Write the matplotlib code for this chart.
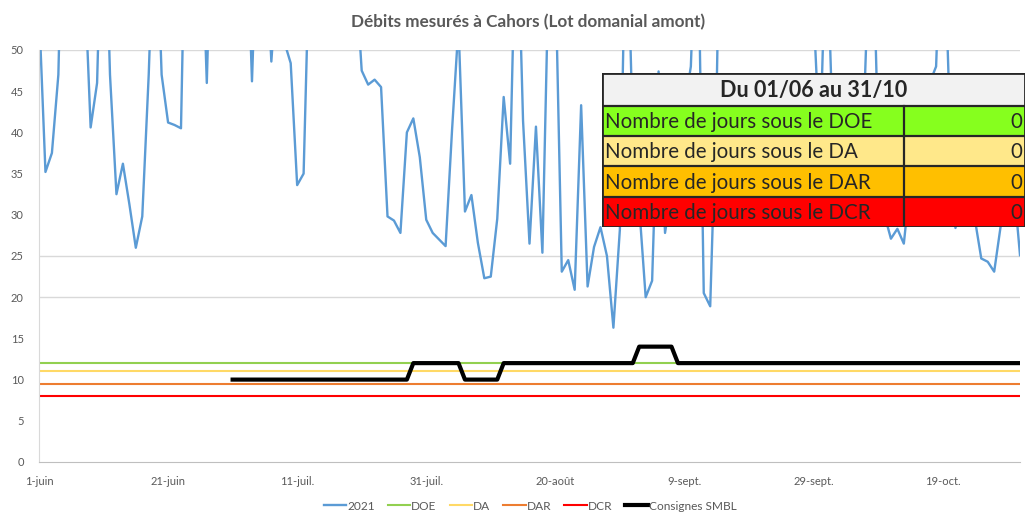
import pandas as pd
import matplotlib
matplotlib.use('Agg')
import matplotlib.pyplot as plt
from matplotlib.patches import Rectangle

plt.rcParams['font.family'] = ['Lato', 'DejaVu Sans']

# daily flows, 1 june -> 31 oct 2021 (values above 50 are off the chart)
dates = pd.date_range('2021-06-01', '2021-10-31', freq='D')
flow_2021 = [
    55, 35.2, 37.5, 47, 80, 90, 85, 60, 40.6, 46,
    75, 47, 32.5, 36.2, 31.3, 26, 29.8, 47, 70, 47,
    41.2, 40.9, 40.5, 80, 85, 70, 46, 75, 85, 90,
    85, 80, 70, 46.2, 70, 65, 48.6, 60, 51, 48.4,
    33.6, 35, 65, 80, 95, 110, 100, 90, 75, 60,
    47.5, 45.8, 46.4, 45.5, 29.8, 29.3, 27.8, 40, 41.7, 37,
    29.4, 27.8, 27, 26.2, 40.3, 53, 30.4, 32.4, 26.6, 22.3,
    22.5, 29.5, 44.3, 36.2, 70, 41.4, 26.5, 40.7, 25.4, 61,
    60, 23.1, 24.5, 20.9, 43.3, 21.3, 26.1, 28.5, 25, 16.3,
    28.2, 70, 40, 31, 20, 22, 47.4, 27.8, 33, 38,
    43, 48, 70, 20.5, 18.9, 45, 90, 110, 130, 120,
    100, 90, 85, 95, 120, 140, 110, 90, 75, 62,
    55, 38, 65, 40, 36, 34, 38, 44, 47, 70,
    40, 30, 27.1, 28.3, 26.5, 34, 38, 42, 46, 48,
    70, 45, 28.4, 32, 35, 29.5, 24.7, 24.3, 23.1, 28.6,
    38, 34, 25.1,
]

# SMBL targets from 1 july
consigne_dates = pd.date_range('2021-07-01', '2021-10-31', freq='D')
consignes = [10] * 28 + [12] * 8 + [10] * 6 + [12] * 21 + [14] * 6 + [12] * 54

DOE = 12
DA = 11
DAR = 9.5
DCR = 8

tick_dates = pd.date_range('2021-06-01', periods=8, freq='20D')
tick_labels = ['1-juin', '21-juin', '11-juil.', '31-juil.', '20-août',
               '9-sept.', '29-sept.', '19-oct.']
y_ticks = [0, 5, 10, 15, 20, 25, 30, 35, 40, 45, 50]
grid_levels = [20, 25, 50]

tbl_title = 'Du 01/06 au 31/10'
tbl_labels = ['Nombre de jours sous le DOE', 'Nombre de jours sous le DA',
              'Nombre de jours sous le DAR', 'Nombre de jours sous le DCR']
tbl_counts = [0, 0, 0, 0]
tbl_colors = ['#86ff1e', '#ffe88a', '#ffbf00', '#ff0000']

W, H = 1035, 524
grey = '#595959'

fig = plt.figure(figsize=(W / 100, H / 100), dpi=100)
ax = fig.add_axes([39 / W, 1 - 462 / H, 981 / W, 412 / H])

for g in grid_levels:
    ax.axhline(g, color='#d9d9d9', lw=1, zorder=0)

ax.plot(dates, flow_2021, color='#5b9bd5', lw=1.7, label='2021',
        solid_joinstyle='round')
ax.plot([dates[0], dates[-1]], [DOE, DOE], color='#92d050', lw=1.5, label='DOE')
ax.plot([dates[0], dates[-1]], [DA, DA], color='#ffd966', lw=1.5, label='DA')
ax.plot([dates[0], dates[-1]], [DAR, DAR], color='#ed7d31', lw=1.5, label='DAR')
ax.plot([dates[0], dates[-1]], [DCR, DCR], color='#ff0000', lw=1.5, label='DCR')
ax.plot(consigne_dates, consignes, color='black', lw=3.0, label='Consignes SMBL',
        solid_joinstyle='round')

ax.set_xlim(dates[0], dates[-1])
ax.set_ylim(0, 50)
ax.set_yticks(y_ticks)
ax.set_xticks(tick_dates)
ax.set_xticklabels(tick_labels)
ax.tick_params(length=0, labelsize=8, labelcolor=grey)
ax.tick_params(axis='y', pad=11)
ax.tick_params(axis='x', pad=10)
for s in ['top', 'right']:
    ax.spines[s].set_visible(False)
ax.spines['left'].set_color('#d9d9d9')
ax.spines['bottom'].set_color('#bfbfbf')

fig.text(528 / W, 1 - 22 / H, 'Débits mesurés à Cahors (Lot domanial amont)',
         ha='center', va='center', fontsize=12.3, fontweight='bold', color=grey)

fig.legend(loc='center', bbox_to_anchor=(530 / W, 1 - 506 / H), ncol=6,
           frameon=False, fontsize=8.6, labelcolor=grey, handlelength=1.9,
           handletextpad=0.05, columnspacing=1.1)

# summary table drawn on top of the chart
tax = fig.add_axes([602 / W, 1 - 227 / H, 423 / W, 154 / H])
tax.set_xlim(0, 423)
tax.set_ylim(154, 0)
tax.axis('off')
edge = '#262626'
tax.add_patch(Rectangle((0, 0), 423, 33, facecolor='#f2f2f2', edgecolor='none'))
tax.text(211.5, 17, tbl_title, ha='center', va='center', fontsize=15.5,
         fontweight='bold', color='#262626')
row_top = [33, 63, 93, 124]
for i, (lab, cnt, col) in enumerate(zip(tbl_labels, tbl_counts, tbl_colors)):
    y0 = row_top[i]
    h = (row_top[i + 1] if i < 3 else 154) - y0
    tax.add_patch(Rectangle((0, y0), 423, h, facecolor=col, edgecolor='none'))
    tax.text(3, y0 + h / 2 + 1, lab, ha='left', va='center', fontsize=14.8, color='#262626')
    tax.text(420, y0 + h / 2 + 1, str(cnt), ha='right', va='center', fontsize=14.8,
             color='#262626')
    tax.plot([0, 423], [y0, y0], color=edge, lw=1.6)
tax.plot([302, 302], [33, 154], color=edge, lw=1.6)
tax.add_patch(Rectangle((0, 0), 423, 154, facecolor='none', edgecolor=edge, lw=2))

fig.savefig('out.png', dpi=100)
